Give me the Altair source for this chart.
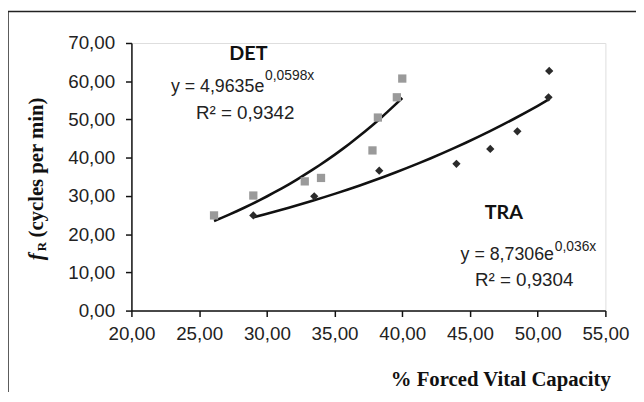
import altair as alt
import pandas as pd

# ---- data ----
det_x = [26.1, 29.0, 32.8, 34.0, 37.8, 38.2, 39.6, 40.0]
det_y = [24.9, 30.1, 33.8, 34.7, 41.9, 50.5, 55.8, 60.7]
tra_x = [29.0, 33.5, 38.3, 44.0, 46.5, 48.5, 50.8, 50.85]
tra_y = [24.9, 29.9, 36.6, 38.4, 42.3, 46.9, 55.8, 62.7]

x_ticks = [20, 25, 30, 35, 40, 45, 50, 55]
y_ticks = [0, 10, 20, 30, 40, 50, 60, 70]

# annotations (data coordinates)
lab_text = ["DET", "TRA"]
lab_x = [28.64, 47.5]
lab_y = [67.1, 25.5]

eq_text = ["y = 4,9635e", "y = 8,7306e"]
eq_x = [29.81, 51.2]
eq_y = [58.5, 14.5]

sup_text = ["0,0598x", "0,036x"]
sup_x = [29.87, 51.26]
sup_y = [61.4, 16.7]

r2_text = ["R\u00b2 = 0,9342", "R\u00b2 = 0,9304"]
r2_x = [28.40, 49.0]
r2_y = [51.6, 8.0]

df = pd.DataFrame({
    "x": det_x + tra_x,
    "y": det_y + tra_y,
    "series": ["DET"] * len(det_x) + ["TRA"] * len(tra_x),
})

label_expr = "replace(format(datum.value, '.2f'), '.', ',')"

xs = alt.Scale(domain=[20, 55], nice=False, zero=False)
ys = alt.Scale(domain=[0, 70], nice=False, zero=True)

x_axis = alt.Axis(values=x_ticks, labelExpr=label_expr, grid=False,
                  title="% Forced Vital Capacity", titleFont="Liberation Serif",
                  titleFontSize=21, titleFontWeight="bold", titleColor="#111",
                  titleAnchor="end", titleAlign="right", titleX=485, titleY=70,
                  titleBaseline="middle",
                  labelFont="Liberation Sans", labelFontSize=19, labelColor="#222",
                  labelPadding=8, tickSize=6, tickColor="#111", domainColor="#111",
                  domainWidth=1.5, tickWidth=1.5, labelFlush=False, labelOverlap=False)
y_axis = alt.Axis(values=y_ticks, labelExpr=label_expr, grid=False, title=None,
                  labelFont="Liberation Sans", labelFontSize=19, labelColor="#222",
                  labelPadding=11, tickSize=6, tickColor="#111", domainColor="#111",
                  domainWidth=1.5, tickWidth=1.5, labelFlush=False, labelOverlap=False,
                  labelBound=False)

X = alt.X("x:Q", scale=xs, axis=x_axis)
Y = alt.Y("y:Q", scale=ys, axis=y_axis)

base = alt.Chart(df)

points = base.mark_point(filled=True, opacity=1, size=70).encode(
    x=X, y=Y,
    shape=alt.Shape("series:N", scale=alt.Scale(domain=["DET", "TRA"], range=["square", "diamond"]), legend=None),
    color=alt.Color("series:N", scale=alt.Scale(domain=["DET", "TRA"], range=["#9a9a9a", "#2b2b2b"]), legend=None),
)

trend = base.transform_regression("x", "y", method="exp", groupby=["series"]).mark_line(
    color="#111", strokeWidth=2.6
).encode(x=X, y=Y, detail="series:N")

lab_df = pd.DataFrame({"x": lab_x, "y": lab_y, "t": lab_text})
eq_df = pd.DataFrame({"x": eq_x, "y": eq_y, "t": eq_text})
sup_df = pd.DataFrame({"x": sup_x, "y": sup_y, "t": sup_text})
r2_df = pd.DataFrame({"x": r2_x, "y": r2_y, "t": r2_text})

def txt(d, **kw):
    return alt.Chart(d).mark_text(**kw).encode(x=X, y=Y, text="t:N")

labels = txt(lab_df, font="Lato", fontSize=20, fontWeight="bold", color="#111", align="center", baseline="middle")
eqs = txt(eq_df, font="Liberation Sans", fontSize=18, color="#222", align="right", baseline="middle")
sups = txt(sup_df, font="Liberation Sans", fontSize=14, color="#222", align="left", baseline="middle")
r2s = txt(r2_df, font="Liberation Sans", fontSize=19, color="#222", align="center", baseline="middle")

one = pd.DataFrame({"a": [0]})
ytitle_f = alt.Chart(one).mark_text(font="Liberation Serif", fontSize=21, fontStyle="italic",
                                    fontWeight="bold", angle=270, align="left", baseline="middle",
                                    color="#111", text="f").encode(x=alt.value(-96), y=alt.value(220))
ytitle_r = alt.Chart(one).mark_text(font="Liberation Serif", fontSize=13, fontWeight="bold",
                                    angle=270, align="left", baseline="middle",
                                    color="#111", text="R").encode(x=alt.value(-91), y=alt.value(211))
ytitle_rest = alt.Chart(one).mark_text(font="Liberation Serif", fontSize=21, fontWeight="bold",
                                       angle=270, align="left", baseline="middle",
                                       color="#111", text="(cycles per min)").encode(x=alt.value(-96), y=alt.value(197))

frame_top = alt.Chart(one).mark_rule(color="#222", strokeWidth=1.5).encode(
    x=alt.value(-125), x2=alt.value(520), y=alt.value(-32))
frame_left = alt.Chart(one).mark_rule(color="#222", strokeWidth=1.5).encode(
    x=alt.value(-125), y=alt.value(-32), y2=alt.value(400))

chart = alt.layer(frame_top, frame_left, trend, points, labels, eqs, sups, r2s,
                  ytitle_f, ytitle_r, ytitle_rest).properties(
    width=480, height=271,
    autosize=alt.AutoSizeParams(type="none"),
    padding={"left": 125, "top": 33, "right": 31, "bottom": 80},
).configure_view(stroke=None).configure(background="white").configure_axis(labelOverlap=False)

chart.save("out.html", embed_options={"renderer": "svg", "actions": False})
